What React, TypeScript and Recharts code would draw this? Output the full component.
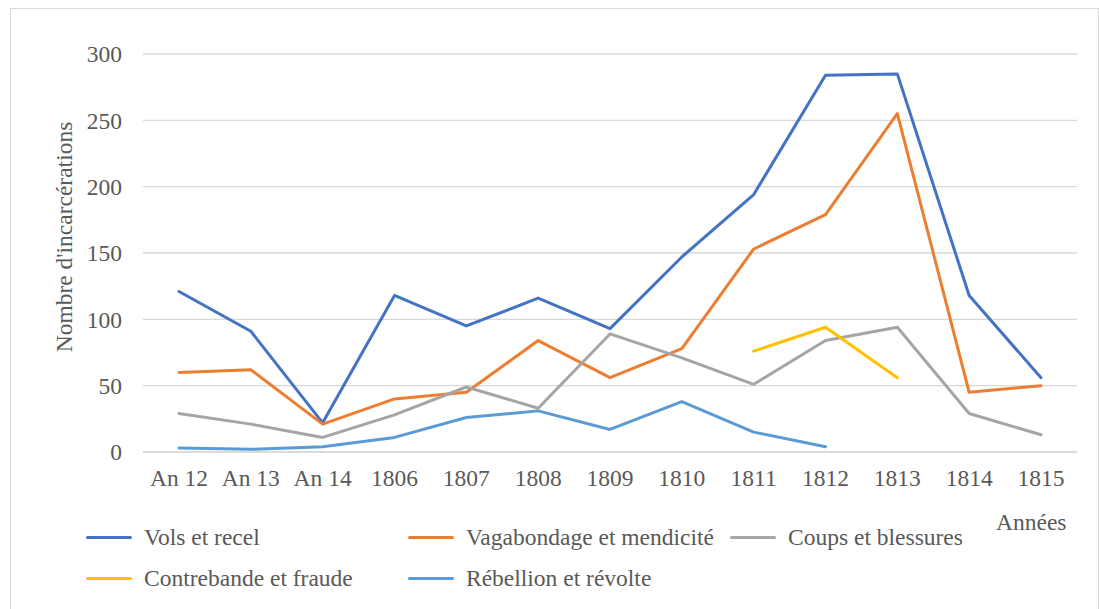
import { LineChart, Line, XAxis, YAxis, CartesianGrid, Legend } from "recharts";

const FONT = "'Liberation Serif', 'Times New Roman', serif";
const TEXT = "#595959";
const GRID = "#d9d9d9";

const years = [
  "An 12",
  "An 13",
  "An 14",
  "1806",
  "1807",
  "1808",
  "1809",
  "1810",
  "1811",
  "1812",
  "1813",
  "1814",
  "1815",
];

const vols = [121, 91, 22, 118, 95, 116, 93, 147, 194, 284, 285, 118, 56];
const vagabondage = [60, 62, 21, 40, 45, 84, 56, 78, 153, 179, 255, 45, 50];
const coups = [29, 21, 11, 28, 49, 33, 89, 71, 51, 84, 94, 29, 13];
const contrebande = [null, null, null, null, null, null, null, null, 76, 94, 56, null, null];
const rebellion = [3, 2, 4, 11, 26, 31, 17, 38, 15, 4, null, null, null];

const yTicks = [0, 50, 100, 150, 200, 250, 300];

const series = [
  { key: "vols", name: "Vols et recel", color: "#4472C4" },
  { key: "vagabondage", name: "Vagabondage et mendicité", color: "#ED7D31" },
  { key: "coups", name: "Coups et blessures", color: "#A5A5A5" },
  { key: "contrebande", name: "Contrebande et fraude", color: "#FFC000" },
  { key: "rebellion", name: "Rébellion et révolte", color: "#5B9BD5" },
];

const data = years.map((year, i) => ({
  year,
  vols: vols[i],
  vagabondage: vagabondage[i],
  coups: coups[i],
  contrebande: contrebande[i],
  rebellion: rebellion[i],
}));

function LegendBox() {
  return (
    <div
      style={{
        display: "flex",
        flexWrap: "wrap",
        width: 966,
        fontFamily: FONT,
        fontSize: 23.5,
        color: TEXT,
      }}
    >
      {series.map((s) => (
        <div
          key={s.key}
          style={{ width: 322, height: 41, display: "flex", alignItems: "center", whiteSpace: "nowrap" }}
        >
          <span
            style={{
              display: "inline-block",
              width: 46,
              height: 3,
              borderRadius: 2,
              background: s.color,
              marginRight: 12,
            }}
          />
          {s.name}
        </div>
      ))}
    </div>
  );
}

export default function App() {
  return (
    <div
      style={{
        position: "absolute",
        left: 0,
        top: 0,
        width: 1099,
        height: 609,
        overflow: "hidden",
        background: "#fff",
      }}
    >
      <div
        style={{
          position: "absolute",
          left: 10,
          top: 8,
          width: 1087,
          height: 640,
          border: `1px solid ${GRID}`,
        }}
      />
      <LineChart
        width={1099}
        height={609}
        data={data}
        margin={{ top: 54, right: 22, bottom: 127, left: 0 }}
        style={{ position: "absolute", left: 0, top: 0 }}
      >
        <CartesianGrid vertical={false} stroke={GRID} strokeWidth={1.3} />
        <XAxis
          dataKey="year"
          height={30}
          padding={{ left: 36, right: 36 }}
          axisLine={{ stroke: GRID, strokeWidth: 1.3 }}
          tickLine={false}
          tickSize={6}
          tickMargin={11}
          interval={0}
          tick={{ fill: TEXT, fontSize: 23.5, fontFamily: FONT }}
        />
        <YAxis
          width={143}
          domain={[0, 300]}
          ticks={yTicks}
          axisLine={false}
          tickLine={false}
          tickSize={6}
          tickMargin={15}
          tick={{ fill: TEXT, fontSize: 23.5, fontFamily: FONT }}
        />
        <Legend
          layout="horizontal"
          verticalAlign="middle"
          align="center"
          wrapperStyle={{ position: "absolute", left: 86, top: 517, width: 966 }}
          content={() => <LegendBox />}
        />
        {series.map((s) => (
          <Line
            key={s.key}
            type="linear"
            dataKey={s.key}
            name={s.name}
            stroke={s.color}
            strokeWidth={3}
            strokeLinecap="round"
            strokeLinejoin="round"
            dot={false}
            activeDot={false}
            connectNulls={false}
            isAnimationActive={false}
          />
        ))}
      </LineChart>
      <div
        style={{
          position: "absolute",
          left: 64,
          top: 237,
          transform: "translate(-50%, -50%) rotate(-90deg)",
          whiteSpace: "nowrap",
          fontFamily: FONT,
          fontSize: 23.5,
          color: TEXT,
        }}
      >
        Nombre d'incarcérations
      </div>
      <div
        style={{
          position: "absolute",
          left: 996,
          top: 509,
          whiteSpace: "nowrap",
          fontFamily: FONT,
          fontSize: 23.5,
          color: TEXT,
        }}
      >
        Années
      </div>
    </div>
  );
}
